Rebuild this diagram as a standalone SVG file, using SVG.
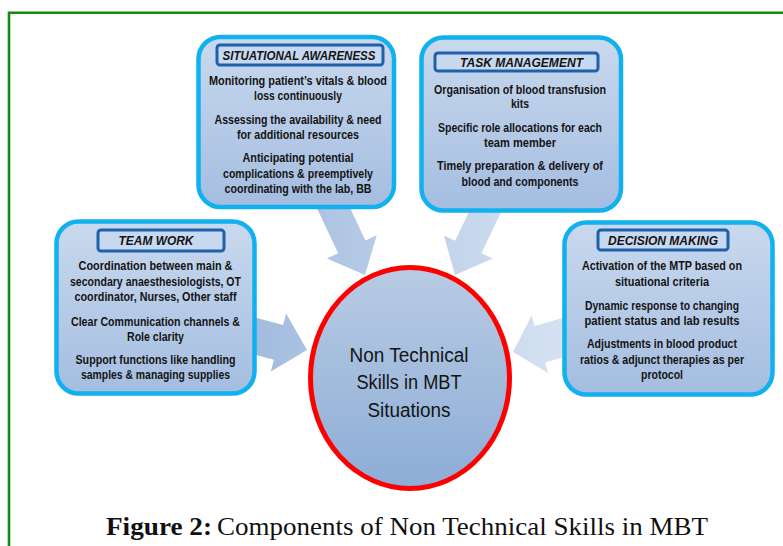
<svg xmlns="http://www.w3.org/2000/svg" width="783" height="546" viewBox="0 0 783 546">
  <defs>
    <linearGradient id="boxFill" x1="0" y1="0" x2="0" y2="1">
      <stop offset="0" stop-color="#c9d9ee"/>
      <stop offset="1" stop-color="#a4bde0"/>
    </linearGradient>
    <linearGradient id="hubFill" x1="0" y1="0" x2="0" y2="1">
      <stop offset="0" stop-color="#b9cbe4"/>
      <stop offset="1" stop-color="#8cadd6"/>
    </linearGradient>
    <linearGradient id="arrowFill" gradientUnits="userSpaceOnUse" x1="250" y1="0" x2="580" y2="0">
      <stop offset="0" stop-color="#a1bbde"/>
      <stop offset="1" stop-color="#d9e4f3"/>
    </linearGradient>
  </defs>
  <style>
    .frame { fill: none; stroke: #168a16; stroke-width: 2.6; }
    .arrow { fill: url(#arrowFill); }
    .box { fill: url(#boxFill); stroke: #11b0ee; stroke-width: 4.5; }
    .ttl { fill: #c7d9f0; stroke: #1f60aa; stroke-width: 3; }
    .t { font-family: "Liberation Sans", Arial, sans-serif; font-weight: bold; font-size: 12px; fill: #141414; text-anchor: middle; }
    .h { font-style: italic; font-size: 13px; }
    .hub { fill: url(#hubFill); stroke: #ff0000; stroke-width: 5; }
    .c { font-family: "Liberation Sans", Arial, sans-serif; font-size: 19.5px; fill: #141414; text-anchor: middle; }
    .cap { font-family: "Liberation Serif", "Times New Roman", serif; font-size: 26px; fill: #111; }
  </style>

  <!-- page frame -->
  <path class="frame" d="M9,546 V12.8 H783"/>

  <!-- block arrows pointing at the hub -->
  <g id="connectors">
    <polygon class="arrow" points="313.8,201.4 341,188.6 365.4,240.5 376.7,235.2 365,275 326.9,258.6 338.2,253.3"/>
    <polygon class="arrow" points="480,188.8 506.2,201.2 481.4,253.2 492.7,258.6 455,275 443.9,235.4 455.2,240.8"/>
    <polygon class="arrow" points="244.6,314.8 283.1,325 286.2,313.4 307,350 270.8,371.4 273.9,359.8 235.4,349.6"/>
    <polygon class="arrow" points="574.8,314.5 534.7,326 531.6,315.5 513,352 548.2,373.1 545.1,362.6 585.2,351.1"/>
  </g>

  <!-- Situational Awareness -->
  <g id="situational-awareness">
    <rect class="box" x="198.5" y="37" width="195.5" height="170" rx="22"/>
    <rect class="ttl" x="217" y="45" width="166" height="20" rx="3"/>
    <text class="t h" x="299" y="59.5" textLength="153" lengthAdjust="spacingAndGlyphs">SITUATIONAL AWARENESS</text>
    <text class="t" x="298" y="85" textLength="178" lengthAdjust="spacingAndGlyphs">Monitoring patient’s vitals &amp; blood</text>
    <text class="t" x="298" y="100" textLength="88" lengthAdjust="spacingAndGlyphs">loss continuously</text>
    <text class="t" x="298" y="123.5" textLength="167" lengthAdjust="spacingAndGlyphs">Assessing the availability &amp; need</text>
    <text class="t" x="298" y="139" textLength="122" lengthAdjust="spacingAndGlyphs">for additional resources</text>
    <text class="t" x="298" y="162" textLength="111" lengthAdjust="spacingAndGlyphs">Anticipating potential</text>
    <text class="t" x="298" y="177.5" textLength="150" lengthAdjust="spacingAndGlyphs">complications &amp; preemptively</text>
    <text class="t" x="298" y="192.5" textLength="147" lengthAdjust="spacingAndGlyphs">coordinating with the lab, BB</text>
  </g>

  <!-- Task Management -->
  <g id="task-management">
    <rect class="box" x="421.5" y="37.5" width="199.5" height="173" rx="22"/>
    <rect class="ttl" x="435" y="53" width="163" height="18" rx="3"/>
    <text class="t h" x="521.5" y="66.5" textLength="123" lengthAdjust="spacingAndGlyphs">TASK MANAGEMENT</text>
    <text class="t" x="520" y="93.5" textLength="172" lengthAdjust="spacingAndGlyphs">Organisation of blood transfusion</text>
    <text class="t" x="520" y="108" textLength="18" lengthAdjust="spacingAndGlyphs">kits</text>
    <text class="t" x="520" y="131.5" textLength="164" lengthAdjust="spacingAndGlyphs">Specific role allocations for each</text>
    <text class="t" x="520" y="147" textLength="72" lengthAdjust="spacingAndGlyphs">team member</text>
    <text class="t" x="520" y="170" textLength="166" lengthAdjust="spacingAndGlyphs">Timely preparation &amp; delivery of</text>
    <text class="t" x="520" y="186" textLength="117" lengthAdjust="spacingAndGlyphs">blood and components</text>
  </g>

  <!-- Team Work -->
  <g id="team-work">
    <rect class="box" x="56.5" y="221.5" width="198" height="172" rx="22"/>
    <rect class="ttl" x="98" y="230" width="126" height="21" rx="3"/>
    <text class="t h" x="156" y="245" textLength="75" lengthAdjust="spacingAndGlyphs">TEAM WORK</text>
    <text class="t" x="155.5" y="270" textLength="154" lengthAdjust="spacingAndGlyphs">Coordination between main &amp;</text>
    <text class="t" x="155.5" y="285.5" textLength="171" lengthAdjust="spacingAndGlyphs">secondary anaesthesiologists, OT</text>
    <text class="t" x="155.5" y="300.5" textLength="162" lengthAdjust="spacingAndGlyphs">coordinator, Nurses, Other staff</text>
    <text class="t" x="155.5" y="325.5" textLength="169" lengthAdjust="spacingAndGlyphs">Clear Communication channels &amp;</text>
    <text class="t" x="155.5" y="340.5" textLength="57" lengthAdjust="spacingAndGlyphs">Role clarity</text>
    <text class="t" x="155.5" y="363.5" textLength="160" lengthAdjust="spacingAndGlyphs">Support functions like handling</text>
    <text class="t" x="155.5" y="378.5" textLength="149" lengthAdjust="spacingAndGlyphs">samples &amp; managing supplies</text>
  </g>

  <!-- Decision Making -->
  <g id="decision-making">
    <rect class="box" x="564.5" y="222.5" width="208" height="172" rx="22"/>
    <rect class="ttl" x="598" y="230" width="130" height="20" rx="3"/>
    <text class="t h" x="663" y="245" textLength="110" lengthAdjust="spacingAndGlyphs">DECISION MAKING</text>
    <text class="t" x="662" y="270" textLength="160" lengthAdjust="spacingAndGlyphs">Activation of the MTP based on</text>
    <text class="t" x="662" y="285.5" textLength="94" lengthAdjust="spacingAndGlyphs">situational criteria</text>
    <text class="t" x="662" y="309.5" textLength="154" lengthAdjust="spacingAndGlyphs">Dynamic response to changing</text>
    <text class="t" x="662" y="325" textLength="155" lengthAdjust="spacingAndGlyphs">patient status and lab results</text>
    <text class="t" x="662" y="347.5" textLength="150" lengthAdjust="spacingAndGlyphs">Adjustments in blood product</text>
    <text class="t" x="662" y="363.5" textLength="164" lengthAdjust="spacingAndGlyphs">ratios &amp; adjunct therapies as per</text>
    <text class="t" x="662" y="378.5" textLength="42" lengthAdjust="spacingAndGlyphs">protocol</text>
  </g>

  <!-- central hub -->
  <g id="hub">
    <ellipse class="hub" cx="410" cy="378" rx="99.5" ry="110.5"/>
    <text class="c" x="409" y="361.5" textLength="119" lengthAdjust="spacingAndGlyphs">Non Technical</text>
    <text class="c" x="409" y="389" textLength="105" lengthAdjust="spacingAndGlyphs">Skills in MBT</text>
    <text class="c" x="409" y="416.5" textLength="83" lengthAdjust="spacingAndGlyphs">Situations</text>
  </g>

  <!-- caption -->
  <text class="cap" x="106" y="535" font-weight="bold" textLength="106" lengthAdjust="spacingAndGlyphs">Figure 2:</text>
  <text class="cap" x="217" y="535" textLength="491" lengthAdjust="spacingAndGlyphs">Components of Non Technical Skills in MBT</text>
</svg>
